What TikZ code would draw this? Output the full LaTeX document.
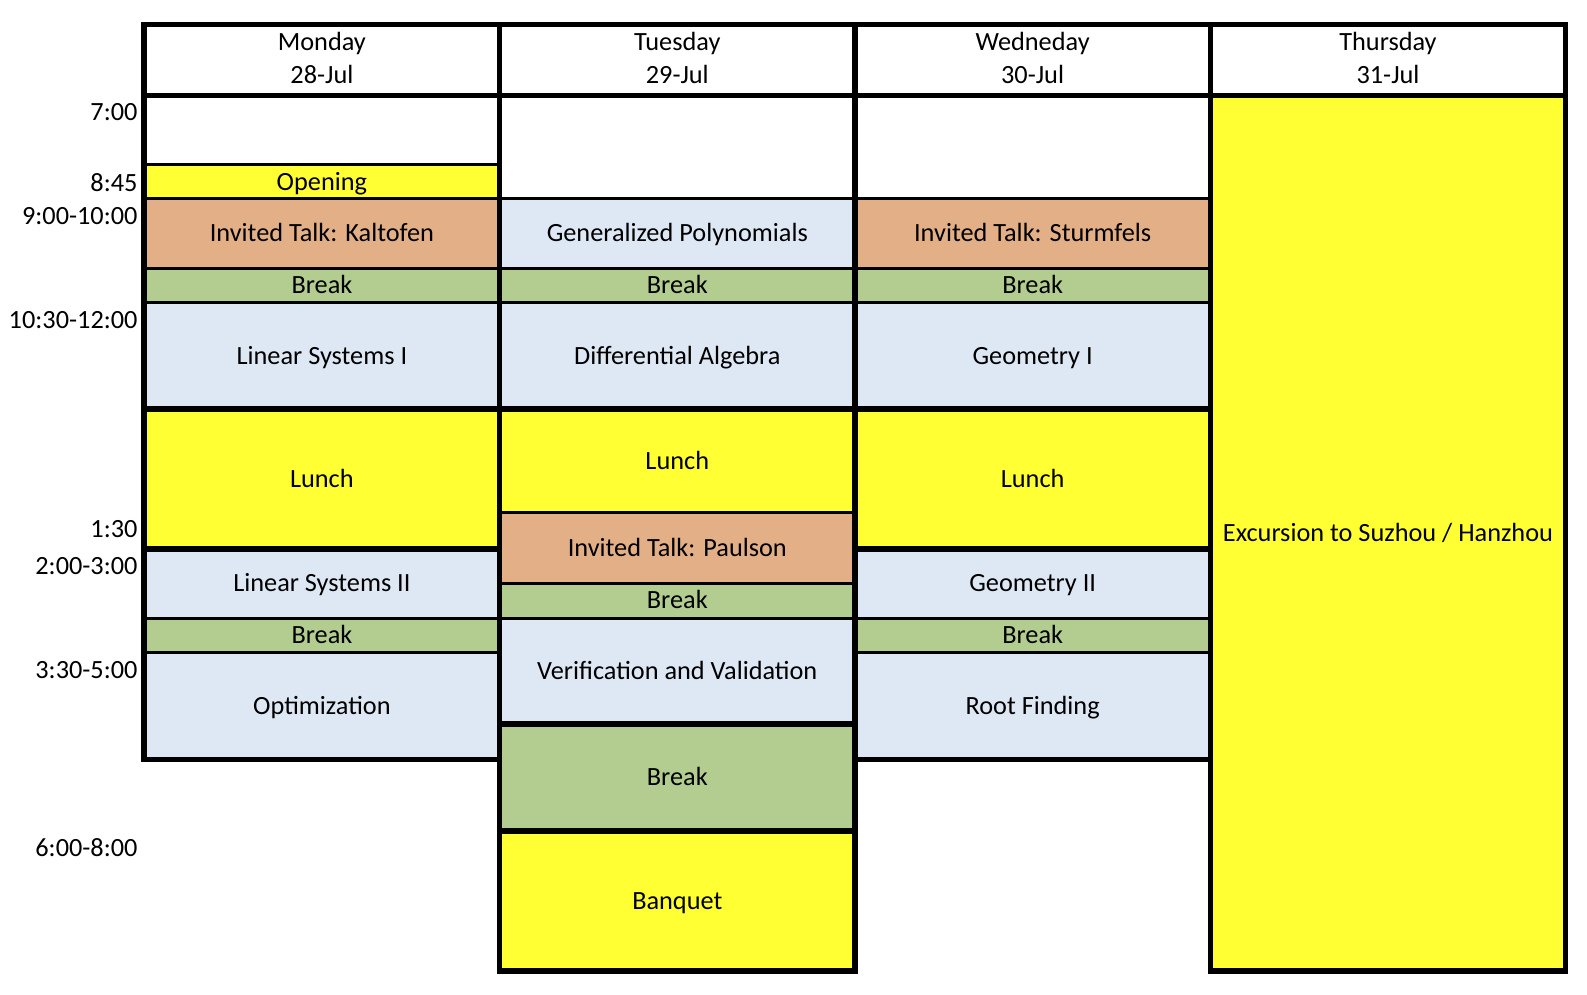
\documentclass[tikz,border=0pt]{standalone}
\usepackage{fontspec}
\setmainfont{Carlito}
\definecolor{cyel}{RGB}{255,255,51}
\definecolor{ctan}{RGB}{226,175,134}
\definecolor{cgrn}{RGB}{179,204,143}
\definecolor{cblu}{RGB}{222,232,244}
\tikzset{
  cellbox/.style={draw=black, line width=3pt, inner sep=0pt, outer sep=0pt,
    text height=16.9pt, text depth=0pt, anchor=center},
  timelbl/.style={inner sep=0pt, anchor=east, text height=16.9pt, text depth=0pt},
  hdrtext/.style={inner sep=0pt, align=center, font=\fontsize{26.3pt}{33.3pt}\selectfont},
  thickline/.style={draw=black, line width=5.5pt, line join=miter, line cap=rect},
  lunchline/.style={draw=black, line width=6pt, line cap=butt},
}
\newcommand\cellnode[7]{%
  \pgfmathsetmacro\cw{#4-#2}\pgfmathsetmacro\ch{#5-#3}%
  \pgfmathsetmacro\cx{(#2+#4)/2}\pgfmathsetmacro\cy{(#3+#5)/2}%
  \node[cellbox, fill=#6, minimum width=\cw pt, minimum height=\ch pt] (#1) at (\cx,\cy) {#7};}
\begin{document}
\begin{tikzpicture}[x=1pt,y=-1pt, font=\fontsize{26.3pt}{31pt}\selectfont]
\useasboundingbox (0,0) rectangle (1587,995);
\fill[white] (0,0) rectangle (1587,995);
% column x: 144.2, 499.6, 855, 1210.3, 1565.7
% header
\cellnode{hmon}{144.2}{24.7}{499.6}{95.5}{white}{}
\cellnode{htue}{499.6}{24.7}{855}{95.5}{white}{}
\cellnode{hwed}{855}{24.7}{1210.3}{95.5}{white}{}
\cellnode{hthu}{1210.3}{24.7}{1565.7}{95.5}{white}{}
\node[hdrtext] (tmon) at (321.9,58.3) {Monday\\28-Jul};
\node[hdrtext] (ttue) at (677.3,58.3) {Tuesday\\29-Jul};
\node[hdrtext] (twed) at (1032.6,58.3) {Wedneday\\30-Jul};
\node[hdrtext] (tthu) at (1388,58.3) {Thursday\\31-Jul};
% Monday
\cellnode{m0}{144.2}{95.5}{499.6}{164.5}{white}{}
\cellnode{m1}{144.2}{164.5}{499.6}{199}{cyel}{Opening}
\cellnode{m2}{144.2}{199}{499.6}{268}{ctan}{Invited Talk: Kaltofen}
\cellnode{m3}{144.2}{268}{499.6}{302.7}{cgrn}{Break}
\cellnode{m4}{144.2}{302.7}{499.6}{409}{cblu}{Linear Systems I}
\cellnode{m5}{144.2}{409}{499.6}{548.7}{cyel}{Lunch}
\cellnode{m6}{144.2}{548.7}{499.6}{618}{cblu}{Linear Systems II}
\cellnode{m7}{144.2}{618}{499.6}{652.5}{cgrn}{Break}
\cellnode{m8}{144.2}{652.5}{499.6}{759.7}{cblu}{Optimization}
% Tuesday
\cellnode{t0}{499.6}{95.5}{855}{199}{white}{}
\cellnode{t1}{499.6}{199}{855}{268}{cblu}{Generalized Polynomials}
\cellnode{t2}{499.6}{268}{855}{302.7}{cgrn}{Break}
\cellnode{t3}{499.6}{302.7}{855}{409}{cblu}{Differential Algebra}
\cellnode{t4}{499.6}{409}{855}{512.5}{cyel}{Lunch}
\cellnode{t5}{499.6}{512.5}{855}{583}{ctan}{Invited Talk: Paulson}
\cellnode{t6}{499.6}{583}{855}{618}{cgrn}{Break}
\cellnode{t7}{499.6}{618}{855}{724}{cblu}{Verification and Validation}
\cellnode{t8}{499.6}{724}{855}{830.7}{cgrn}{Break}
\cellnode{t9}{499.6}{830.7}{855}{971}{cyel}{Banquet}
% Wednesday
\cellnode{w0}{855}{95.5}{1210.3}{199}{white}{}
\cellnode{w1}{855}{199}{1210.3}{268}{ctan}{Invited Talk: Sturmfels}
\cellnode{w2}{855}{268}{1210.3}{302.7}{cgrn}{Break}
\cellnode{w3}{855}{302.7}{1210.3}{409}{cblu}{Geometry I}
\cellnode{w4}{855}{409}{1210.3}{548.7}{cyel}{Lunch}
\cellnode{w5}{855}{548.7}{1210.3}{618}{cblu}{Geometry II}
\cellnode{w6}{855}{618}{1210.3}{652.5}{cgrn}{Break}
\cellnode{w7}{855}{652.5}{1210.3}{759.7}{cblu}{Root Finding}
% Thursday
\cellnode{h1}{1210.3}{95.5}{1565.7}{971}{cyel}{Excursion to Suzhou / Hanzhou}
% thick horizontal separators
\draw[lunchline] (144.2,409) -- (1210.3,409);
\draw[lunchline] (144.2,548.7) -- (499.6,548.7);
\draw[lunchline] (855,548.7) -- (1210.3,548.7);
\draw[lunchline] (499.6,724) -- (855,724);
\draw[lunchline] (499.6,830.7) -- (855,830.7);
% thick outlines
\draw[thickline] (144.2,24.7) rectangle (1565.7,95.5);
\draw[thickline] (144.2,95.5) rectangle (499.6,759.7);
\draw[thickline] (499.6,95.5) rectangle (855,971);
\draw[thickline] (855,95.5) rectangle (1210.3,759.7);
\draw[thickline] (1210.3,95.5) rectangle (1565.7,971);
\draw[thickline] (499.6,24.7) -- (499.6,95.5) (855,24.7) -- (855,95.5) (1210.3,24.7) -- (1210.3,95.5);
% time labels
\node[timelbl] (l1) at (137.7,112) {7:00};
\node[timelbl] (l2) at (137.7,183) {8:45};
\node[timelbl] (l3) at (137.7,216) {9:00-10:00};
\node[timelbl] (l4) at (137.7,320) {10:30-12:00};
\node[timelbl] (l5) at (137.7,529.5) {1:30};
\node[timelbl] (l6) at (137.7,566) {2:00-3:00};
\node[timelbl] (l7) at (137.7,670) {3:30-5:00};
\node[timelbl] (l8) at (137.7,848) {6:00-8:00};
\end{tikzpicture}
\end{document}
